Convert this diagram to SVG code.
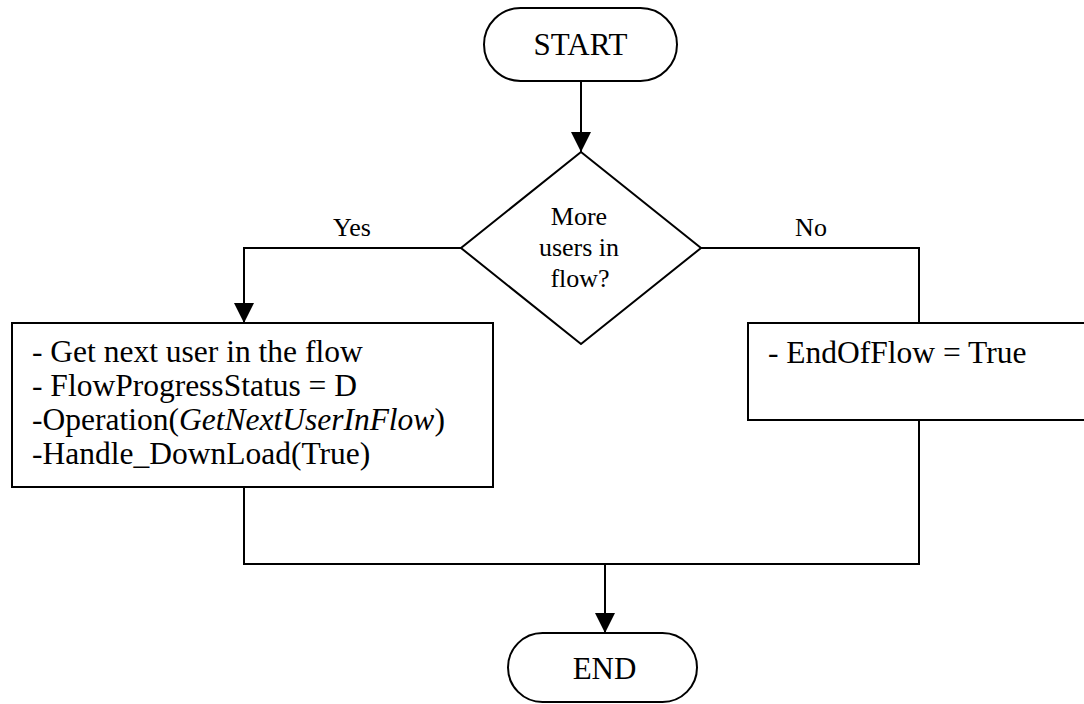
<svg xmlns="http://www.w3.org/2000/svg" width="1084" height="704" viewBox="0 0 1084 704">
  <defs>
    <style>
      .shape { fill: #ffffff; stroke: #000000; stroke-width: 2; }
      .wire { fill: none; stroke: #000000; stroke-width: 2; }
      .txt { font-family: "Liberation Serif", "Times New Roman", serif; fill: #000000; }
      .big { font-size: 31px; }
      .box { font-size: 31.5px; }
      .small { font-size: 26px; }
      .mid { text-anchor: middle; }
    </style>
    <marker id="arrow" markerUnits="userSpaceOnUse" markerWidth="20" markerHeight="20" viewBox="0 0 20 20" refX="20" refY="10" orient="auto">
      <path d="M0,0 L20,10 L0,20 Z" fill="#000000"/>
    </marker>
  </defs>
  <rect width="1084" height="704" fill="#ffffff"/>

  <!-- connectors -->
  <g id="connectors">
    <path class="wire" d="M581,81 V152" marker-end="url(#arrow)"/>
    <path class="wire" d="M461,248 H244 V323" marker-end="url(#arrow)"/>
    <path class="wire" d="M701,248 H919 V323"/>
    <path class="wire" d="M244,487 V564 H919 V420"/>
    <path class="wire" d="M605,564 V633" marker-end="url(#arrow)"/>
    <text class="txt small mid" x="352" y="236">Yes</text>
    <text class="txt small mid" x="811" y="236">No</text>
  </g>

  <!-- start terminator -->
  <g id="start">
    <rect class="shape" x="484" y="8" width="193" height="73" rx="36.5" ry="36.5"/>
    <text class="txt big mid" x="580.5" y="55">START</text>
  </g>

  <!-- decision -->
  <g id="decision">
    <polygon class="shape" points="581,152 701,248 581,344 461,248"/>
    <text class="txt small mid" x="579" y="225">More</text>
    <text class="txt small mid" x="579" y="256">users in</text>
    <text class="txt small mid" x="580" y="287">flow?</text>
  </g>

  <!-- yes branch process -->
  <g id="next-user">
    <rect class="shape" x="12" y="323" width="481" height="164"/>
    <text class="txt box" x="32" y="362">- Get next user in the flow</text>
    <text class="txt box" x="32" y="396">- FlowProgressStatus = D</text>
    <text class="txt box" x="32" y="430">-Operation(<tspan font-style="italic">GetNextUserInFlow</tspan>)</text>
    <text class="txt box" x="32" y="464">-Handle_DownLoad(True)</text>
  </g>

  <!-- no branch process -->
  <g id="end-of-flow">
    <rect class="shape" x="748" y="323" width="342" height="97"/>
    <text class="txt box" x="768" y="363">- EndOfFlow = True</text>
  </g>

  <!-- end terminator -->
  <g id="end">
    <rect class="shape" x="508" y="633" width="189" height="69" rx="34.5" ry="34.5"/>
    <text class="txt big mid" x="604.5" y="679">END</text>
  </g>
</svg>
